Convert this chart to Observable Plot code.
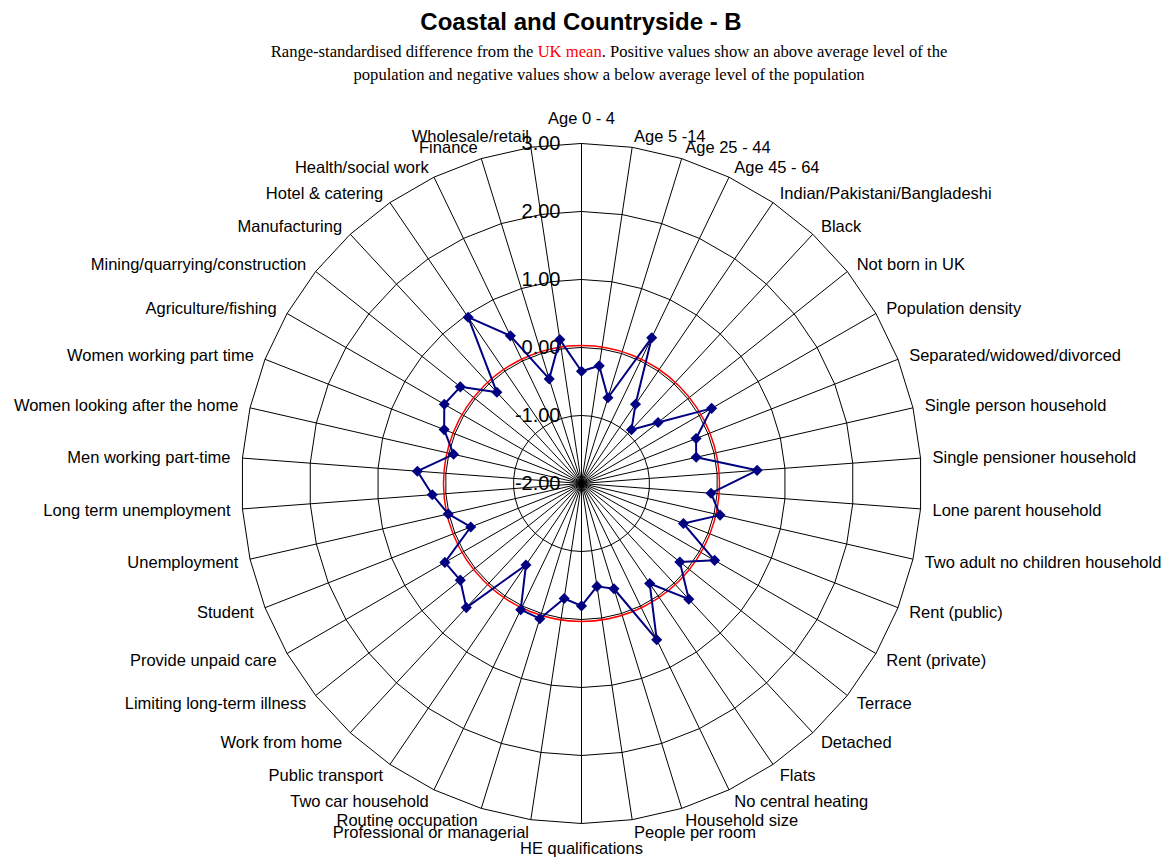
<!DOCTYPE html>
<html>
<head>
<meta charset="utf-8">
<script src="https://cdn.jsdelivr.net/npm/d3@7"></script>
<script src="https://cdn.jsdelivr.net/npm/@observablehq/plot@0.6"></script>
<style>
  html, body { margin: 0; padding: 0; background: #fff; overflow: hidden; }
  #header { position: relative; width: 1172px; height: 95px; }
  #title { position: absolute; left: -5px; width: 1172px; top: 7px; text-align: center;
    font: bold 24px/30px "Liberation Sans", Arial, sans-serif; color: #000; }
  #subtitle { position: absolute; left: 23px; width: 1172px; top: 40px; text-align: center;
    font: 16.6px/23px "Liberation Serif", "Times New Roman", serif; color: #000; }
  #subtitle .red { color: #ff0000; }
  #chart svg { display: block; }
</style>
</head>
<body>
<div id="header">
  <div id="title">Coastal and Countryside - B</div>
  <div id="subtitle">Range-standardised difference from the <span class="red">UK mean</span>. Positive values show an above average level of the<br>population and negative values show a below average level of the population</div>
</div>
<div id="chart"></div>
<script>
const categories = [
  "Age 0 - 4", "Age 5 -14", "Age 25 - 44", "Age 45 - 64", "Indian/Pakistani/Bangladeshi",
  "Black", "Not born in UK", "Population density", "Separated/widowed/divorced",
  "Single person household", "Single pensioner household", "Lone parent household",
  "Two adult no children household", "Rent (public)", "Rent (private)", "Terrace",
  "Detached", "Flats", "No central heating", "Household size", "People per room",
  "HE qualifications", "Professional or managerial", "Routine occupation",
  "Two car household", "Public transport", "Work from home", "Limiting long-term illness",
  "Provide unpaid care", "Student", "Unemployment", "Long term unemployment",
  "Men working part-time", "Women looking after the home", "Women working part time",
  "Agriculture/fishing", "Mining/quarrying/construction", "Manufacturing",
  "Hotel & catering", "Health/social work", "Finance", "Wholesale/retail"
];
const values = [
  -0.35, -0.25, -0.68, 0.38, -0.59, -0.92, -0.56, 0.21, -0.19, -0.27, 0.59, -0.09,
  0.09, -0.39, 0.26, -0.15, 0.32, -0.22, 0.55, -0.38, -0.47, -0.20, -0.29, 0.08,
  0.06, -0.55, 0.49, 0.28, 0.32, -0.25, 0.01, 0.20, 0.42, -0.07, 0.17, 0.33,
  0.28, -0.17, 0.96, 0.41, -0.39, 0.14
];
const tickValues = [-2, -1, 0, 1, 2, 3];
const tickLabels = ["-2.00", "-1.00", "0.00", "1.00", "2.00", "3.00"];
const ringValues = [-1, 0, 1, 2, 3];
const meanValue = 0;

const W = 1172, H = 762, CX = 581, CY = 388;
const n = categories.length;
const rScale = Plot.scale({x: {type: "linear", domain: [-2, 3], range: [0, 340]}});
const ang = i => i * 2 * Math.PI / n;
const px = (i, v) => rScale.apply(v) * Math.sin(ang(i));
const py = (i, v) => rScale.apply(v) * Math.cos(ang(i));

const pts = categories.map((c, i) => ({i, c, v: values[i]}));
const rings = ringValues.flatMap(v => categories.map((c, i) => ({i, v})));
const spokes = categories.map((c, i) => ({i}));
const labelR = 352;
const lab = categories.map((c, i) => {
  const s = Math.sin(ang(i)), co = Math.cos(ang(i));
  return {c, i, x: labelR * s, y: labelR * co,
    anchor: Math.abs(s) < 0.01 ? (co > 0 ? "top" : "bottom") : (s > 0 ? "start" : "end")};
});
const ticks = tickValues.map((v, k) => ({v, label: tickLabels[k]}));

const font = "'Liberation Sans', Arial, sans-serif";
const LFS = 16.5;
const labelMark = a => Plot.text(lab.filter(d => d.anchor === a), {
  x: "x", y: "y", text: "c", textAnchor: a, dy: 1, fontSize: LFS, fill: "black"
});

const chart = Plot.plot({
  width: W, height: H,
  marginTop: 0, marginRight: 0, marginBottom: 0, marginLeft: 0,
  x: {domain: [-CX, W - CX], axis: null},
  y: {domain: [-(H - CY), CY], axis: null},
  style: {fontFamily: font, background: "white"},
  marks: [
    Plot.link(spokes, {x1: () => 0, y1: () => 0, x2: d => px(d.i, 3), y2: d => py(d.i, 3), stroke: "black", strokeWidth: 1}),
    Plot.line(rings, {x: d => px(d.i, d.v), y: d => py(d.i, d.v), z: "v", curve: "linear-closed", stroke: "black", strokeWidth: 1}),
    Plot.dot([meanValue], {x: () => 0, y: () => 0, r: rScale.apply(meanValue) + 2, stroke: "#ff0000", strokeWidth: 1.5, fill: "none"}),
    Plot.text(ticks, {x: () => 0, y: d => rScale.apply(d.v), text: "label", textAnchor: "end", dx: -21, fontSize: 20, fill: "black"}),
    Plot.line(pts, {x: d => px(d.i, d.v), y: d => py(d.i, d.v), curve: "linear-closed", stroke: "#000080", strokeWidth: 2}),
    Plot.dot(pts, {x: d => px(d.i, d.v), y: d => py(d.i, d.v), symbol: "diamond2", r: 5, fill: "#000080", stroke: "none"}),
    labelMark("start"),
    labelMark("end"),
    Plot.text(lab.filter(d => d.anchor === "top"), {x: "x", y: "y", text: "c", dy: -13, textAnchor: "middle", fontSize: LFS, fill: "black"}),
    Plot.text(lab.filter(d => d.anchor === "bottom"), {x: "x", y: "y", text: "c", dy: 13, textAnchor: "middle", fontSize: LFS, fill: "black"})
  ]
});
document.getElementById("chart").appendChild(chart);
</script>
</body>
</html>
